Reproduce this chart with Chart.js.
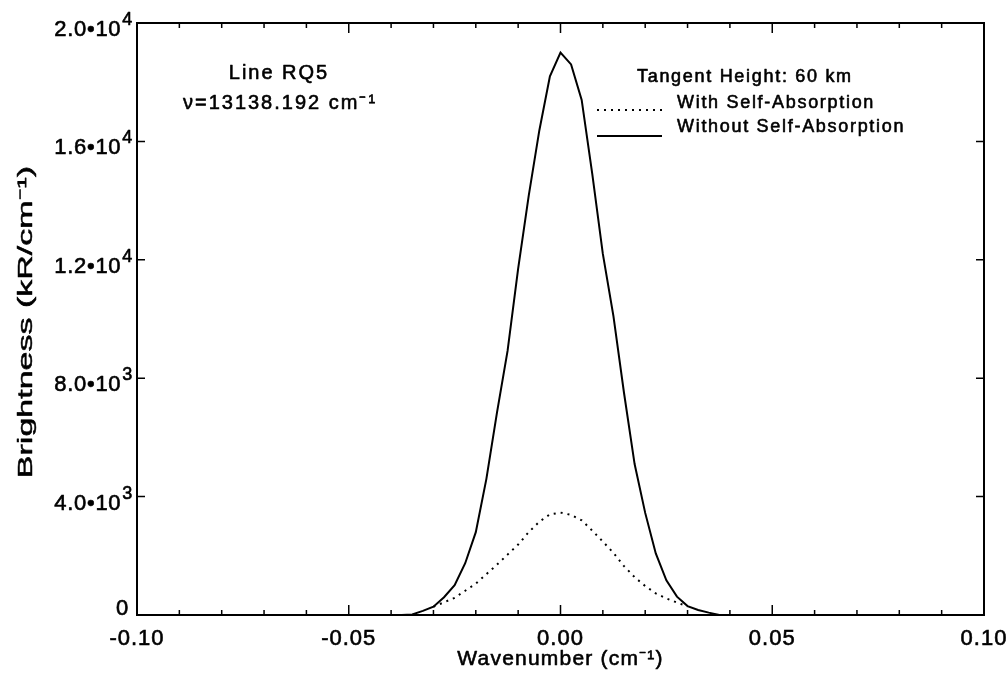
<!DOCTYPE html>
<html>
<head>
<meta charset="utf-8">
<script src="https://cdn.jsdelivr.net/npm/chart.js@4"></script>
<style>
  html, body { margin: 0; padding: 0; background: #fff; }
  #wrap { width: 1008px; height: 674px; }
</style>
</head>
<body>
<div id="wrap"><canvas id="lineChart" width="1008" height="674"></canvas></div>
<script>
// --------- Data ---------
const wavenumbers = [-0.0375, -0.035, -0.0325, -0.03, -0.0275, -0.025, -0.0225, -0.02, -0.0175, -0.015,
    -0.0125, -0.01, -0.0075, -0.005, -0.0025, 0, 0.0025, 0.005, 0.0075, 0.01,
    0.0125, 0.015, 0.0175, 0.02, 0.0225, 0.025, 0.0275, 0.03, 0.0325, 0.035, 0.0375];
const withoutSelfAbs = [0, 20, 140, 280, 600, 1010, 1750, 2800, 4600, 6840,
    8920, 11700, 14170, 16370, 18200, 19000, 18600, 17400, 14900, 12200,
    10100, 7500, 5100, 3450, 2080, 1170, 620, 300, 170, 80, 0];

const absWavenumbers = [-0.03, -0.0275, -0.025, -0.0225, -0.02, -0.0175, -0.015, -0.0125, -0.01, -0.0075,
    -0.005, -0.0025, 0, 0.0025, 0.005, 0.0075, 0.01, 0.0125, 0.015, 0.0175,
    0.02, 0.0225, 0.025, 0.0275, 0.03];
const withSelfAbs = [280, 430, 580, 820, 1060, 1380, 1700, 2040, 2380, 2800,
    3150, 3400, 3460, 3380, 3200, 2850, 2480, 2100, 1650, 1280,
    980, 730, 560, 420, 290];

const xTickLabels = ['-0.10', '-0.05', '0.00', '0.05', '0.10'];
const yTickValues = [0, 4000, 8000, 12000, 16000, 20000];
const yTickMantissas = ['0', '4.0•10', '8.0•10', '1.2•10', '1.6•10', '2.0•10'];
const yTickExponents = ['', '3', '3', '4', '4', '4'];


// --------- Styles ---------
const FONT = "'Liberation Sans', Arial, Helvetica, sans-serif";
const tickFont = { family: FONT, size: 22 };
const STROKE = 0.6; // thickens the glyphs a little, like the scanned original

const drawText = (ctx, text, x, y) => {
    ctx.strokeText(text, x, y);
    ctx.fillText(text, x, y);
};


// --------- Frame, inward ticks and text labels ---------
const frameAndLabels = {
    id: 'frameAndLabels',
    beforeUpdate(chart) {
        chart.ctx.letterSpacing = '1px';
    },
    beforeDraw(chart) {
        chart.ctx.letterSpacing = '1px';
    },
    afterDraw(chart) {
        const { ctx, chartArea: a, scales: { x, y } } = chart;
        ctx.save();
        ctx.strokeStyle = '#000';
        ctx.lineWidth = 2;
        ctx.strokeRect(a.left, a.top, a.right - a.left, a.bottom - a.top);

        // x ticks every 0.01, longer at 0.05
        ctx.lineWidth = 1.5;
        ctx.beginPath();
        for (let i = -10; i <= 10; i++) {
            const px = x.getPixelForValue(i / 100);
            const len = i % 5 === 0 ? 10 : 5;
            ctx.moveTo(px, a.bottom); ctx.lineTo(px, a.bottom - len);
            ctx.moveTo(px, a.top); ctx.lineTo(px, a.top + len);
        }
        // y ticks at labels
        yTickValues.forEach((v) => {
            const py = y.getPixelForValue(v);
            ctx.moveTo(a.left, py); ctx.lineTo(a.left + 8, py);
            ctx.moveTo(a.right, py); ctx.lineTo(a.right - 8, py);
        });
        ctx.stroke();

        ctx.fillStyle = '#000';
        ctx.lineWidth = STROKE;
        ctx.lineJoin = 'round';

        // y tick labels with superscript exponents
        ctx.textAlign = 'right';
        ctx.textBaseline = 'alphabetic';
        ctx.letterSpacing = '0.7px';
        yTickValues.forEach((v, i) => {
            const py = y.getPixelForValue(v);
            const right = a.left - 4;
            if (!yTickExponents[i]) {
                ctx.font = `22px ${FONT}`;
                drawText(ctx, yTickMantissas[i], a.left - 8, py);
                return;
            }
            ctx.font = `18px ${FONT}`;
            const expWidth = ctx.measureText(yTickExponents[i]).width;
            drawText(ctx, yTickExponents[i], right, py + 2);
            ctx.font = `22px ${FONT}`;
            drawText(ctx, yTickMantissas[i], right - expWidth - 1, py + 13);
        });

        // x axis title
        ctx.textAlign = 'center';
        ctx.textBaseline = 'middle';
        ctx.letterSpacing = '1.2px';
        ctx.font = `21px ${FONT}`;
        drawText(ctx, 'Wavenumber (cm⁻¹)', (a.left + a.right) / 2, 659);

        // y axis title (stretched along its length like the original)
        ctx.save();
        ctx.translate(26, (a.top + a.bottom) / 2 + 3);
        ctx.rotate(-Math.PI / 2);
        ctx.scale(1.7, 1);
        ctx.letterSpacing = '0px';
        ctx.font = `20px ${FONT}`;
        ctx.lineWidth = STROKE * 0.8;
        drawText(ctx, 'Brightness (kR/cm⁻¹)', 0, 0);
        ctx.restore();

        // line info (top left)
        ctx.letterSpacing = '2px';
        ctx.font = `20px ${FONT}`;
        drawText(ctx, 'Line RQ5', 279, 73);
        drawText(ctx, 'ν=13138.192 cm⁻¹', 280, 103);

        // legend (top right)
        ctx.textAlign = 'left';
        ctx.letterSpacing = '1.7px';
        ctx.font = `18px ${FONT}`;
        drawText(ctx, 'Tangent Height: 60 km', 637, 77);
        drawText(ctx, 'With Self-Absorption', 677, 103);
        drawText(ctx, 'Without Self-Absorption', 677, 127);

        ctx.lineWidth = 2;
        ctx.setLineDash([2, 5]);
        ctx.beginPath(); ctx.moveTo(597, 110); ctx.lineTo(662, 110); ctx.stroke();
        ctx.setLineDash([]);
        ctx.beginPath(); ctx.moveTo(597, 136); ctx.lineTo(662, 136); ctx.stroke();
        ctx.restore();
    }
};


// --------- Chart ---------
const ctx = document.getElementById('lineChart');

const lineChart = new Chart(ctx, {
    type: 'line',
    data: {
        datasets: [{
            label: 'Without Self-Absorption',
            data: wavenumbers.map((w, i) => ({ x: w, y: withoutSelfAbs[i] })),
            borderColor: '#000',
            borderWidth: 2,
            fill: false
        }, {
            label: 'With Self-Absorption',
            data: absWavenumbers.map((w, i) => ({ x: w, y: withSelfAbs[i] })),
            borderColor: '#000',
            borderWidth: 2,
            borderDash: [2, 5],
            fill: false
        }]
    },
    options: {
        responsive: false,
        animation: false,
        layout: { padding: { top: 23, right: 24, left: 0, bottom: 0 } },
        elements: { point: { radius: 0 }, line: { tension: 0 } },
        plugins: { legend: { display: false }, tooltip: { enabled: false } },
        scales: {
            x: {
                type: 'linear',
                min: -0.1,
                max: 0.1,
                grid: { display: false },
                border: { display: false },
                ticks: {
                    stepSize: 0.05,
                    autoSkip: false,
                    maxRotation: 0,
                    padding: 3,
                    color: '#000',
                    textStrokeColor: '#000',
                    textStrokeWidth: STROKE,
                    font: tickFont,
                    callback: (value, index) => xTickLabels[index]
                },
                afterFit: (scale) => {
                    scale.height = 59;
                    scale.paddingLeft = 0;
                    scale.paddingRight = 0;
                }
            },
            y: {
                min: 0,
                max: 20000,
                grid: { display: false },
                border: { display: false },
                ticks: { display: false, stepSize: 4000 },
                afterFit: (scale) => {
                    scale.width = 137;
                    scale.paddingTop = 0;
                    scale.paddingBottom = 0;
                }
            }
        }
    },
    plugins: [frameAndLabels]
});
</script>
</body>
</html>
